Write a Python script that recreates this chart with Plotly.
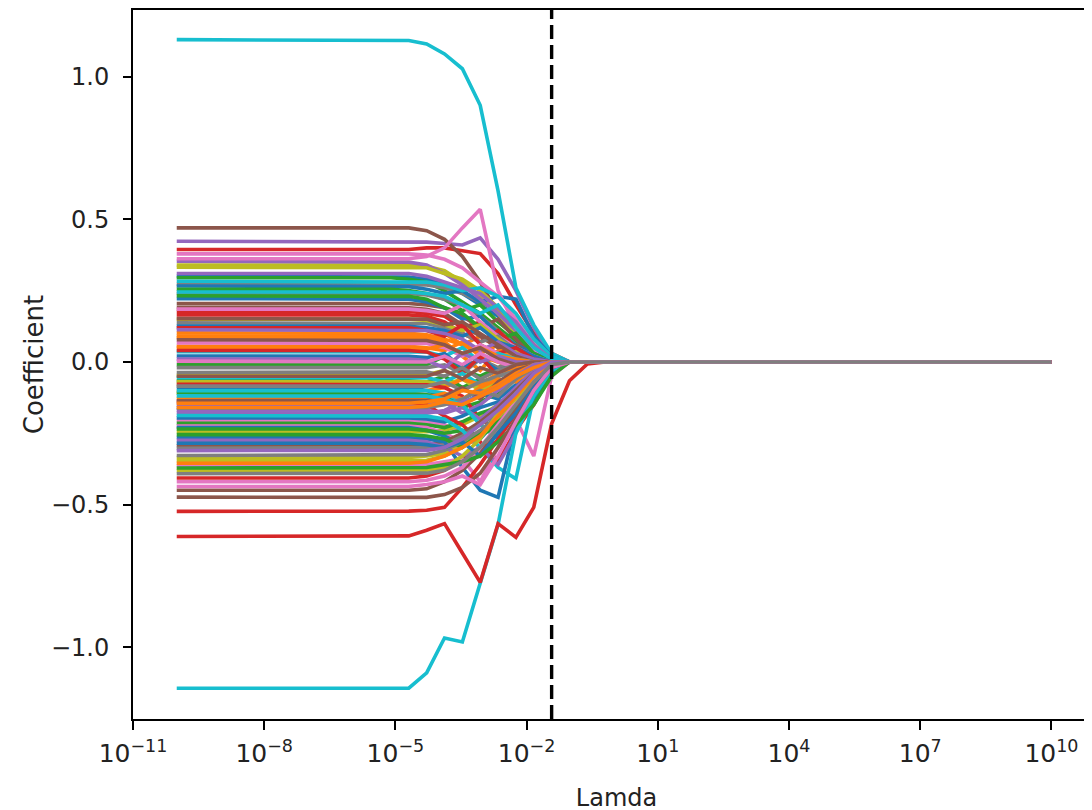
import numpy as np
import plotly.graph_objects as go

# Lambda grid of the path (50 log-spaced alphas from 1e-10 to 1e10)
lambdas = np.logspace(-10, 10, 50)
n_flat = 13          # number of grid points where each coefficient is still at its OLS-like value
alpha_cv = 0.0373    # chosen lambda (dashed line)

# flat (small-lambda) value of each coefficient, in plotting order
coef_flat = [
    0.300, 0.102, 0.295, 0.394, 0.423, 0.470, 0.379, 0.272, 0.340, 1.130,
    0.266, 0.091, 0.255, 0.178, 0.353, 0.205, 0.362, 0.240, 0.332, 0.283,
    0.222, 0.085, 0.232, 0.165, 0.310, 0.192, 0.185, 0.137, 0.150, 0.245,
    0.126, 0.055, -0.010, 0.120, 0.113, 0.152, 0.067, -0.020, -0.047, 0.036,
    0.021, 0.050, -0.066, 0.040, 0.010, 0.078, 0.003, -0.037, -0.070, -0.055,
    -0.090, -0.105, -0.110, -0.078, -0.152, -0.050, -0.205, -0.085, -0.245, -0.101,
    -0.196, -0.128, -0.215, -0.140, -0.168, -0.136, -0.225, -0.162, -0.335, -0.119,
    -0.230, -0.145, -0.235, -0.407, -0.178, -0.294, -0.364, -0.303, -0.346, -0.188,
    -0.265, -0.160, -0.255, -0.524, -0.275, -0.450, -0.420, -0.328, -0.381, -1.144,
    -0.285, -0.355, -0.372, -0.612, -0.311, -0.474, -0.437, -0.392,
]

# values along the shrinking part of the path (grid points 13, 14, ...); zero afterwards
coef_path = [
    [0.298, 0.29, 0.27, 0.24, 0.20, 0.16, 0.10, 0.05, 0.01],
    [0.10, 0.095, 0.08, 0.06, 0.09, 0.05, 0.03, 0.01, 0.0],
    [0.29, 0.28, 0.25, 0.21, 0.17, 0.12, 0.07, 0.03, 0.005],
    [0.394, 0.40, 0.40, 0.39, 0.38, 0.31, 0.20, 0.10, 0.03],
    [0.423, 0.42, 0.415, 0.41, 0.435, 0.36, 0.25, 0.12, 0.02],
    [0.47, 0.46, 0.43, 0.37, 0.28, 0.17, 0.09, 0.03, 0.005],
    [0.379, 0.375, 0.36, 0.33, 0.28, 0.23, 0.15, 0.07, 0.01],
    [0.272, 0.27, 0.26, 0.24, 0.21, 0.18, 0.12, 0.05, 0.01],
    [0.34, 0.335, 0.32, 0.28, 0.23, 0.17, 0.10, 0.04, 0.01],
    [1.127, 1.115, 1.08, 1.028, 0.90, 0.60, 0.26, 0.13, 0.03],
    [0.264, 0.255, 0.24, 0.25, 0.21, 0.23, 0.22, 0.09, 0.02],
    [0.09, 0.085, 0.07, 0.02, -0.03, 0.04, 0.02, 0.0, 0.0],
    [0.25, 0.24, 0.22, 0.18, 0.20, 0.14, 0.09, 0.04, 0.01],
    [0.178, 0.17, 0.16, 0.12, 0.14, 0.08, 0.02, -0.03, 0.0],
    [0.35, 0.34, 0.31, 0.27, 0.22, 0.17, 0.11, 0.05, 0.01],
    [0.205, 0.20, 0.19, 0.16, 0.12, 0.15, 0.08, 0.02, 0.0],
    [0.362, 0.37, 0.40, 0.47, 0.535, 0.25, 0.12, 0.04, 0.0],
    [0.24, 0.235, 0.22, 0.20, 0.16, 0.11, 0.06, 0.02, 0.0],
    [0.332, 0.33, 0.31, 0.29, 0.25, 0.19, 0.13, 0.06, 0.01],
    [0.283, 0.28, 0.27, 0.25, 0.26, 0.23, 0.17, 0.08, 0.02],
    [0.22, 0.21, 0.19, 0.15, 0.16, 0.10, 0.06, 0.03, 0.005],
    [0.084, 0.08, 0.10, 0.06, 0.03, 0.06, 0.04, 0.01, 0.0],
    [0.23, 0.22, 0.19, 0.17, 0.12, 0.08, 0.10, 0.03, 0.0],
    [0.165, 0.16, 0.14, 0.10, 0.07, 0.11, 0.05, 0.01, 0.0],
    [0.31, 0.30, 0.28, 0.26, 0.24, 0.19, 0.14, 0.06, 0.01],
    [0.19, 0.185, 0.17, 0.13, 0.09, 0.05, 0.06, 0.01, 0.0],
    [0.185, 0.18, 0.17, 0.20, 0.14, 0.09, 0.05, 0.02, 0.0],
    [0.137, 0.135, 0.12, 0.10, 0.07, 0.09, 0.04, 0.01, 0.0],
    [0.15, 0.145, 0.13, 0.11, 0.13, 0.08, 0.04, 0.01, 0.0],
    [0.245, 0.24, 0.23, 0.20, 0.17, 0.20, 0.12, 0.05, 0.01],
    [0.125, 0.12, 0.11, 0.09, 0.12, 0.07, 0.05, 0.02, 0.0],
    [0.055, 0.05, 0.04, 0.07, 0.02, 0.0, -0.02, -0.01, 0.0],
    [-0.01, -0.01, 0.02, -0.03, -0.05, -0.02, 0.01, 0.0, 0.0],
    [0.12, 0.11, 0.09, 0.13, 0.06, 0.03, 0.05, 0.01, 0.0],
    [0.113, 0.11, 0.10, 0.08, 0.04, 0.07, 0.03, 0.01, 0.0],
    [0.152, 0.15, 0.13, 0.14, 0.10, 0.06, 0.02, 0.0, 0.0],
    [0.067, 0.065, 0.05, 0.02, 0.06, 0.03, 0.0, 0.0, 0.0],
    [-0.02, -0.02, -0.01, -0.04, 0.01, -0.02, 0.0, 0.0, 0.0],
    [-0.047, -0.045, -0.03, -0.06, -0.09, -0.05, -0.02, 0.0, 0.0],
    [0.036, 0.035, 0.02, 0.05, 0.0, 0.03, 0.01, 0.0, 0.0],
    [0.02, 0.015, 0.03, -0.02, 0.01, -0.03, -0.01, 0.0, 0.0],
    [0.05, 0.045, 0.06, 0.03, 0.05, 0.02, 0.01, 0.0, 0.0],
    [-0.066, -0.07, -0.05, -0.09, -0.06, -0.10, -0.05, -0.02, 0.0],
    [0.04, 0.035, 0.01, -0.04, 0.02, -0.05, -0.02, -0.01, 0.0],
    [0.01, 0.005, -0.02, 0.03, 0.0, 0.02, 0.0, 0.0, 0.0],
    [0.078, 0.075, 0.06, 0.03, 0.05, 0.01, -0.01, 0.0, 0.0],
    [0.003, 0.0, 0.02, -0.01, 0.03, 0.0, -0.02, 0.0, 0.0],
    [-0.037, -0.035, -0.05, -0.02, -0.06, -0.03, -0.01, 0.0, 0.0],
    [-0.07, -0.07, -0.08, -0.06, -0.10, -0.07, -0.04, -0.01, 0.0],
    [-0.055, -0.055, -0.07, -0.04, -0.08, -0.05, -0.03, -0.01, 0.0],
    [-0.09, -0.10, -0.12, -0.15, -0.11, -0.13, -0.08, -0.04, -0.01],
    [-0.105, -0.10, -0.09, -0.06, -0.08, -0.04, -0.02, 0.0, 0.0],
    [-0.11, -0.115, -0.12, -0.16, -0.14, -0.11, -0.06, -0.02, 0.0],
    [-0.078, -0.08, -0.09, -0.12, -0.20, -0.24, -0.15, -0.05, 0.0],
    [-0.152, -0.15, -0.14, -0.18, -0.15, -0.10, -0.06, -0.02, 0.0],
    [-0.05, -0.05, -0.03, -0.06, -0.02, -0.04, -0.01, 0.0, 0.0],
    [-0.205, -0.21, -0.22, -0.25, -0.30, -0.24, -0.18, -0.08, -0.01],
    [-0.085, -0.085, -0.07, -0.10, -0.07, -0.05, -0.03, -0.01, 0.0],
    [-0.245, -0.245, -0.24, -0.22, -0.19, -0.15, -0.10, -0.05, -0.01],
    [-0.101, -0.10, -0.11, -0.14, -0.12, -0.08, -0.04, -0.01, 0.0],
    [-0.196, -0.20, -0.21, -0.19, -0.16, -0.14, -0.12, -0.06, -0.01],
    [-0.128, -0.125, -0.11, -0.13, -0.09, -0.06, -0.07, -0.02, 0.0],
    [-0.215, -0.22, -0.23, -0.21, -0.18, -0.16, -0.11, -0.05, -0.01],
    [-0.14, -0.15, -0.19, -0.22, -0.28, -0.35, -0.24, -0.12, -0.02],
    [-0.168, -0.17, -0.18, -0.16, -0.20, -0.15, -0.09, -0.03, 0.0],
    [-0.136, -0.135, -0.12, -0.09, -0.13, -0.07, -0.03, -0.01, 0.0],
    [-0.225, -0.23, -0.25, -0.28, -0.25, -0.22, -0.20, -0.33, -0.05],
    [-0.162, -0.16, -0.15, -0.13, -0.10, -0.12, -0.06, -0.02, 0.0],
    [-0.335, -0.33, -0.32, -0.29, -0.25, -0.20, -0.14, -0.07, -0.02],
    [-0.119, -0.12, -0.13, -0.15, -0.22, -0.27, -0.18, -0.07, -0.01],
    [-0.23, -0.24, -0.26, -0.29, -0.27, -0.20, -0.17, -0.10, -0.03],
    [-0.145, -0.14, -0.13, -0.10, -0.11, -0.08, -0.04, -0.01, 0.0],
    [-0.235, -0.24, -0.25, -0.24, -0.26, -0.22, -0.18, -0.09, -0.02],
    [-0.407, -0.40, -0.38, -0.34, -0.30, -0.28, -0.24, -0.15, -0.04],
    [-0.178, -0.18, -0.17, -0.14, -0.12, -0.09, -0.05, -0.01, 0.0],
    [-0.294, -0.29, -0.28, -0.25, -0.21, -0.16, -0.10, -0.04, -0.01],
    [-0.364, -0.36, -0.35, -0.34, -0.42, -0.30, -0.20, -0.09, -0.02],
    [-0.303, -0.30, -0.29, -0.26, -0.22, -0.18, -0.13, -0.06, -0.01],
    [-0.346, -0.345, -0.33, -0.30, -0.26, -0.20, -0.11, -0.06, -0.02],
    [-0.188, -0.19, -0.20, -0.24, -0.30, -0.37, -0.41, -0.12, -0.02],
    [-0.265, -0.27, -0.28, -0.37, -0.45, -0.475, -0.21, -0.13, -0.04],
    [-0.16, -0.155, -0.14, -0.15, -0.12, -0.09, -0.05, -0.02, 0.0],
    [-0.255, -0.26, -0.27, -0.30, -0.25, -0.21, -0.16, -0.07, -0.01],
    [-0.523, -0.52, -0.51, -0.44, -0.36, -0.27, -0.18, -0.08, -0.02],
    [-0.275, -0.28, -0.30, -0.33, -0.30, -0.36, -0.25, -0.11, -0.02],
    [-0.45, -0.445, -0.42, -0.38, -0.32, -0.25, -0.17, -0.08, -0.02],
    [-0.42, -0.415, -0.40, -0.37, -0.30, -0.22, -0.14, -0.06, -0.01],
    [-0.328, -0.325, -0.31, -0.28, -0.24, -0.19, -0.12, -0.05, -0.01],
    [-0.381, -0.38, -0.37, -0.33, -0.27, -0.18, -0.13, -0.07, -0.01],
    [-1.144, -1.09, -0.968, -0.982, -0.777, -0.57, -0.25, -0.12, -0.03],
    [-0.285, -0.29, -0.30, -0.28, -0.33, -0.25, -0.18, -0.09, -0.02],
    [-0.355, -0.35, -0.33, -0.30, -0.26, -0.19, -0.12, -0.05, -0.01],
    [-0.372, -0.37, -0.36, -0.35, -0.33, -0.28, -0.22, -0.15, -0.05],
    [-0.61, -0.59, -0.567, -0.67, -0.773, -0.567, -0.615, -0.51, -0.217, -0.066, -0.007],
    [-0.311, -0.31, -0.30, -0.27, -0.22, -0.17, -0.11, -0.04, 0.0],
    [-0.474, -0.475, -0.465, -0.44, -0.39, -0.30, -0.20, -0.10, -0.02],
    [-0.437, -0.43, -0.42, -0.40, -0.43, -0.33, -0.21, -0.10, -0.02],
    [-0.392, -0.39, -0.38, -0.35, -0.30, -0.23, -0.15, -0.07, -0.01],
]

x_tick_exponents = [-11, -8, -5, -2, 1, 4, 7, 10]
y_tick_values = [-1.0, -0.5, 0.0, 0.5, 1.0]
y_tick_labels = ["\u22121.0", "\u22120.5", "0.0", "0.5", "1.0"]

tab10 = ["#1f77b4", "#ff7f0e", "#2ca02c", "#d62728", "#9467bd",
         "#8c564b", "#e377c2", "#7f7f7f", "#bcbd22", "#17becf"]

def sup(e):
    s = str(e).replace("-", "\u2212")
    return "10<sup>" + s + "</sup>"

fig = go.Figure()
n_pts = len(lambdas)
for i, (flat, path) in enumerate(zip(coef_flat, coef_path)):
    y = [flat] * n_flat + list(path)
    y = y + [0.0] * (n_pts - len(y))
    fig.add_trace(go.Scatter(
        x=lambdas, y=y, mode="lines",
        line=dict(color=tab10[i % 10], width=3.6),
        showlegend=False, hoverinfo="skip"))

y_min, y_max = -1.252, 1.234
fig.add_trace(go.Scatter(
    x=[alpha_cv, alpha_cv], y=[y_min, y_max], mode="lines",
    line=dict(color="black", width=3.4, dash="14px,6px"),
    showlegend=False, hoverinfo="skip"))

font_family = "DejaVu Sans, Liberation Sans, sans-serif"
fig.update_layout(
    width=1092, height=810,
    margin=dict(l=125, r=0, t=2, b=99, autoexpand=False),
    paper_bgcolor="white", plot_bgcolor="white",
    font=dict(family=font_family, size=24, color="#222"),
    xaxis=dict(
        type="log", range=[-11, 11.11],
        tickvals=[10.0 ** e for e in x_tick_exponents],
        ticktext=[sup(e) for e in x_tick_exponents],
        ticks="outside", ticklen=9, tickwidth=2, tickcolor="black",
        showline=True, linecolor="black", linewidth=2, mirror=True,
        showgrid=False, zeroline=False, automargin=False,
        title=dict(text="Lamda", font=dict(size=24), standoff=22),
        tickfont=dict(size=25), ticklabelstandoff=2,
    ),
    yaxis=dict(
        range=[y_min, y_max],
        tickvals=y_tick_values, ticktext=y_tick_labels,
        ticks="outside", ticklen=8, tickwidth=2, tickcolor="black",
        showline=True, linecolor="black", linewidth=2, mirror=False,
        showgrid=False, zeroline=False, automargin=False,
        title=dict(text="Coefficient", font=dict(size=26), standoff=0),
        tickfont=dict(size=24), ticklabelstandoff=9,
    ),
)

fig.write_html("out.html")
